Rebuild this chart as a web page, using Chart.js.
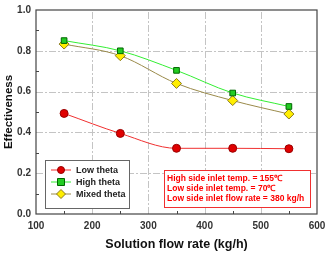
<!DOCTYPE html>
<html>
<head>
<meta charset="utf-8">
<script src="https://cdn.jsdelivr.net/npm/chart.js@4"></script>
<style>
html, body { margin: 0; padding: 0; background: #fff; }
#wrap { width: 326px; height: 254px; }
</style>
</head>
<body>
<div id="wrap"><canvas id="myChart" width="326" height="254"></canvas></div>
<script>
const flowRates = [150, 250, 350, 450, 550];
const lowTheta = [0.493, 0.395, 0.322, 0.322, 0.320];
const highTheta = [0.850, 0.800, 0.704, 0.593, 0.527];
const mixedTheta = [0.833, 0.776, 0.640, 0.556, 0.490];
const seriesNames = ["Low theta", "High theta", "Mixed theta"];
const noteLines = ["High side inlet temp. = 155\u2103", "Low side inlet temp. = 70\u2103", "Low side inlet flow rate = 380 kg/h"];

const toXY = vals => vals.map((v, i) => ({x: flowRates[i], y: v}));
const FONT = "'Liberation Sans', Arial, sans-serif";

// dashed grid drawn by hand, under the lines
const grid = {
    id: 'grid',
    beforeDatasetsDraw(chart) {
        const ctx = chart.ctx;
        const a = chart.chartArea;
        ctx.save();
        ctx.strokeStyle = '#c4c4c4';
        ctx.lineWidth = 1;
        ctx.setLineDash([7, 2, 2, 2]);
        chart.scales.y.ticks.forEach(t => {
            const y = Math.round(chart.scales.y.getPixelForValue(t.value)) + 0.5;
            if (y <= a.top + 1 || y >= a.bottom - 1) return;
            ctx.beginPath(); ctx.moveTo(a.left, y); ctx.lineTo(a.right, y); ctx.stroke();
        });
        chart.scales.x.ticks.forEach(t => {
            const x = Math.round(chart.scales.x.getPixelForValue(t.value)) + 0.5;
            if (x <= a.left + 1 || x >= a.right - 1) return;
            ctx.beginPath(); ctx.moveTo(x, a.bottom); ctx.lineTo(x, a.top); ctx.stroke();
        });
        ctx.restore();
    }
};

// frame, minor ticks, legend box and the note box
const extras = {
    id: 'extras',
    afterDraw(chart) {
        const ctx = chart.ctx;
        const a = chart.chartArea;
        const xs = chart.scales.x, ys = chart.scales.y;
        ctx.save();
        ctx.strokeStyle = '#444';
        ctx.lineWidth = 1.2;
        ctx.strokeRect(a.left, a.top, a.right - a.left, a.bottom - a.top);
        ctx.lineWidth = 1;
        for (let v = 0.1; v < 1; v += 0.2) {
            const y = Math.round(ys.getPixelForValue(v)) + 0.5;
            ctx.beginPath(); ctx.moveTo(a.left, y); ctx.lineTo(a.left + 3, y); ctx.stroke();
        }
        for (let v = 150; v < 600; v += 100) {
            const x = Math.round(xs.getPixelForValue(v)) + 0.5;
            ctx.beginPath(); ctx.moveTo(x, a.bottom); ctx.lineTo(x, a.bottom - 3); ctx.stroke();
        }

        // legend
        const lx = 45, ly = 160, lw = 84, lh = 48;
        ctx.fillStyle = '#fff';
        ctx.fillRect(lx, ly, lw, lh);
        ctx.strokeStyle = '#666';
        ctx.strokeRect(lx + 0.5, ly + 0.5, lw, lh);
        ctx.textBaseline = 'middle';
        chart.data.datasets.forEach((ds, i) => {
            const y = ly + 10 + i * 12;
            ctx.strokeStyle = ds.borderColor;
            ctx.lineWidth = 1;
            ctx.beginPath(); ctx.moveTo(lx + 6, y); ctx.lineTo(lx + 26, y); ctx.stroke();
            ctx.fillStyle = ds.pointBackgroundColor;
            ctx.strokeStyle = ds.pointBorderColor;
            ctx.beginPath();
            if (ds.pointStyle === 'circle') ctx.arc(lx + 16, y, 3.5, 0, Math.PI * 2);
            else if (ds.pointStyle === 'rect') ctx.rect(lx + 12.5, y - 3.5, 7, 7);
            else { ctx.moveTo(lx + 16, y - 4.5); ctx.lineTo(lx + 20.5, y); ctx.lineTo(lx + 16, y + 4.5); ctx.lineTo(lx + 11.5, y); ctx.closePath(); }
            ctx.fill(); ctx.stroke();
            ctx.fillStyle = '#222';
            ctx.font = 'bold 9px ' + FONT;
            ctx.fillText(seriesNames[i], lx + 31, y + 0.5);
        });

        // note box
        const bx = 164, by = 170, bw = 146, bh = 37;
        ctx.fillStyle = '#fff';
        ctx.fillRect(bx, by, bw, bh);
        ctx.strokeStyle = '#f03030';
        ctx.strokeRect(bx + 0.5, by + 0.5, bw, bh);
        ctx.fillStyle = '#f00';
        ctx.font = 'bold 8.5px ' + FONT;
        noteLines.forEach((t, i) => ctx.fillText(t, bx + 3, by + 9 + i * 10));
        ctx.restore();
    }
};

new Chart(document.getElementById('myChart').getContext('2d'), {
    type: 'line',
    data: {
        datasets: [{
            label: seriesNames[0],
            data: toXY(lowTheta),
            borderColor: '#f03030',
            pointBackgroundColor: '#e00000',
            pointBorderColor: '#900',
            pointStyle: 'circle',
            pointRadius: 4
        }, {
            label: seriesNames[1],
            data: toXY(highTheta),
            borderColor: '#33ee33',
            pointBackgroundColor: '#22cc22',
            pointBorderColor: '#006600',
            pointStyle: 'rect',
            pointRadius: 4
        }, {
            label: seriesNames[2],
            data: toXY(mixedTheta),
            borderColor: '#9a8a4a',
            pointBackgroundColor: '#ffee00',
            pointBorderColor: '#8a7a20',
            pointStyle: 'rectRot',
            pointRadius: 5
        }]
    },
    options: {
        animation: false,
        responsive: false,
        elements: {line: {tension: 0.4, borderWidth: 1, cubicInterpolationMode: 'monotone'}, point: {borderWidth: 1}},
        layout: {padding: {top: 10, right: 9, left: 0, bottom: 0}},
        plugins: {legend: {display: false}, tooltip: {enabled: false}},
        scales: {
            x: {
                type: 'linear', min: 100, max: 600,
                ticks: {stepSize: 100, color: '#333', font: {family: FONT, size: 10, weight: 'bold'}, padding: 6},
                grid: {display: false, drawTicks: false},
                border: {display: false},
                title: {display: true, text: 'Solution flow rate (kg/h)', color: '#111', font: {family: FONT, size: 12.5, weight: 'bold'}, padding: {top: 5, bottom: 2}},
                afterFit(s) { s.height = 40; s.paddingRight = 0; s.paddingLeft = 0; }
            },
            y: {
                min: 0, max: 1,
                ticks: {stepSize: 0.2, color: '#333', font: {family: FONT, size: 10, weight: 'bold'}, padding: 5, callback: v => v.toFixed(1)},
                grid: {display: false, drawTicks: false},
                border: {display: false},
                title: {display: true, text: 'Effectiveness', color: '#111', font: {family: FONT, size: 11.5, weight: 'bold'}, padding: {top: 1.5, bottom: 2}},
                afterFit(s) { s.width = 36; s.paddingTop = 0; s.paddingBottom = 0; }
            }
        }
    },
    plugins: [grid, extras]
});
</script>
</body>
</html>
